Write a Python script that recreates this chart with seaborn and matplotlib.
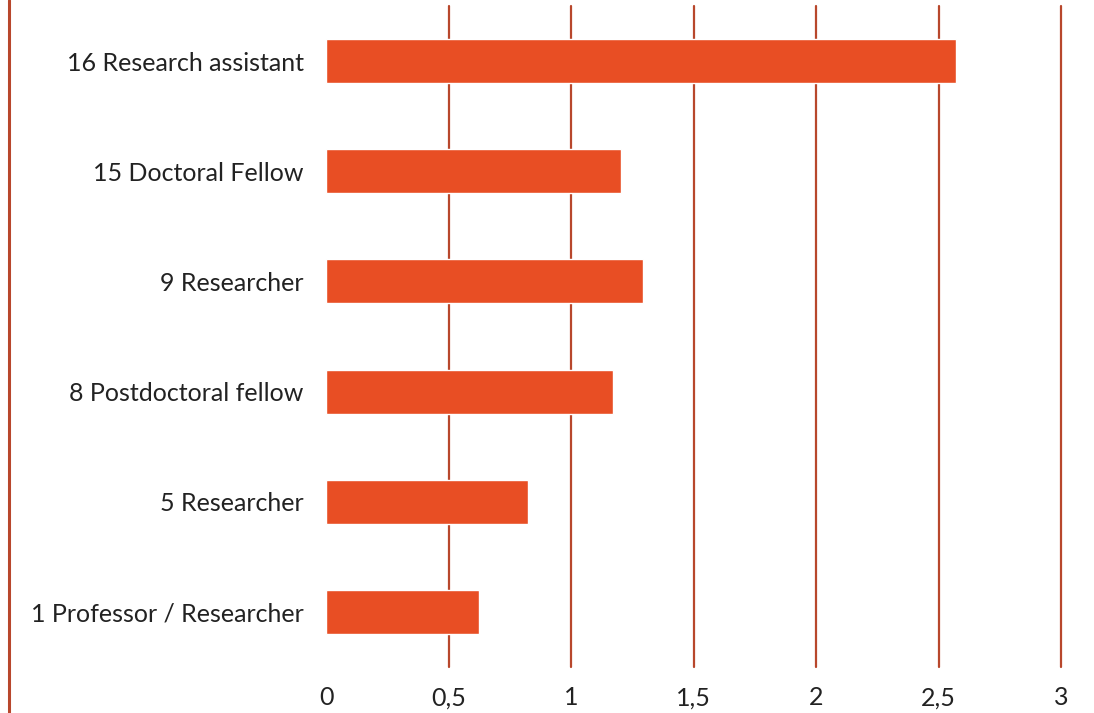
import numpy as np
import pandas as pd
import seaborn as sns
import matplotlib.pyplot as plt
from matplotlib.lines import Line2D
from matplotlib.ticker import FuncFormatter

roles = ['16 Research assistant', '15 Doctoral Fellow', '9 Researcher',
         '8 Postdoctoral fellow', '5 Researcher', '1 Professor / Researcher']
values = [2.57, 1.205, 1.295, 1.17, 0.825, 0.625]

bar_color = '#E84E24'
grid_color = '#B8472C'

df = pd.DataFrame({'role': roles, 'value': values})

sns.set_style('white')
plt.rcParams['font.family'] = ['Lato', 'DejaVu Sans']

fig = plt.figure(figsize=(10.94, 7.13), dpi=100)
ax = fig.add_axes([0.298, 0.0645, 0.672, 0.927])

sns.barplot(data=df, x='value', y='role', orient='h', color=bar_color,
            width=0.4, saturation=1, ax=ax, zorder=3)

ax.set_xlim(0, 3)
ax.set_xticks(np.arange(0, 3.01, 0.5))
ax.xaxis.set_major_formatter(FuncFormatter(lambda v, p: ('%g' % v).replace('.', ',')))
for x in np.arange(0.5, 3.01, 0.5):
    ax.axvline(x, color=grid_color, lw=1.6, zorder=1, clip_on=False)

for s in ax.spines.values():
    s.set_visible(False)
ax.tick_params(axis='both', length=0, labelsize=18, labelcolor='#222222')
ax.tick_params(axis='x', pad=14)
ax.tick_params(axis='y', pad=16)
ax.set_xlabel('')
ax.set_ylabel('')

# frame line at the left edge
fig.add_artist(Line2D([0.0085, 0.0085], [0, 1], color=grid_color, lw=2.2,
                      transform=fig.transFigure))

fig.savefig('out.png', dpi=100)
